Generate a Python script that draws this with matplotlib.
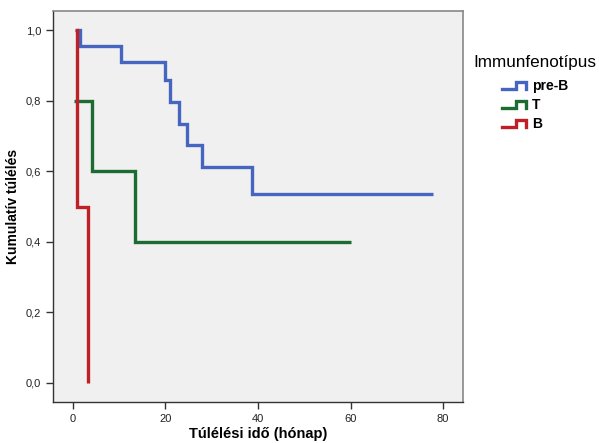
import matplotlib
matplotlib.use("Agg")
import matplotlib.pyplot as plt
from matplotlib.lines import Line2D
from matplotlib.legend_handler import HandlerBase
from matplotlib.ticker import FuncFormatter

plt.rcParams['font.family'] = ['Liberation Sans', 'DejaVu Sans']

# Kaplan-Meier step data (time in months, cumulative survival)
preB_time = [0.9, 1.5, 10.3, 19.9, 21.0, 22.9, 24.6, 28.0, 38.8, 77.8]
preB_surv = [1.0, 0.955, 0.909, 0.859, 0.797, 0.735, 0.673, 0.612, 0.535, 0.535]

T_time = [0.3, 4.1, 13.4, 60.0]
T_surv = [0.8, 0.6, 0.4, 0.4]

B_time = [0.4, 0.9, 3.2, 3.2]
B_surv = [1.0, 0.5, 0.0, 0.0]

groups = ["pre-B", "T", "B"]
colors = ["#4565C0", "#1C6B33", "#BE2026"]

x_ticks = [0, 20, 40, 60, 80]
y_ticks = [0.0, 0.2, 0.4, 0.6, 0.8, 1.0]

fig = plt.figure(figsize=(5.99, 4.43), dpi=100)
ax = fig.add_axes([53/599, 1 - 402/443, (463-53)/599, (402-11)/443])
ax.set_facecolor("#F0F0F0")

lw = 2.4
series = [(preB_time, preB_surv), (T_time, T_surv), (B_time, B_surv)]
order = [1, 0, 2]
for i in order:
    t, s = series[i]
    ax.step(t, s, where="post", color=colors[i], lw=lw, solid_joinstyle="miter",
            solid_capstyle="butt")

ax.set_xlim(-4.3, 84.3)
ax.set_ylim(-0.054, 1.054)
ax.set_xticks(x_ticks)
ax.set_yticks(y_ticks)
ax.yaxis.set_major_formatter(FuncFormatter(lambda v, p: f"{v:.1f}".replace(".", ",")))
ax.tick_params(axis="both", labelsize=8, length=5, width=1, color="#333333", labelcolor="#222222")

for side in ["left", "bottom"]:
    ax.spines[side].set_color("#333333")
    ax.spines[side].set_linewidth(1)
for side in ["top", "right"]:
    ax.spines[side].set_color("#888888")
    ax.spines[side].set_linewidth(1.2)

ax.set_xlabel("Túlélési idő (hónap)", fontsize=10.5, fontweight="bold", labelpad=2)
ax.set_ylabel("Kumulatív túlélés", fontsize=10, fontweight="bold", labelpad=4)


class StepHandler(HandlerBase):
    def create_artists(self, legend, orig_handle, xdescent, ydescent, width, height, fontsize, trans):
        x0 = -xdescent
        y0 = -ydescent
        xs = [x0, x0 + width * 0.5, x0 + width * 0.5, x0 + width * 0.88, x0 + width * 0.88]
        ys = [y0 + height * 0.1, y0 + height * 0.1, y0 + height * 0.9, y0 + height * 0.9, y0 + height * 0.1]
        ln = Line2D(xs, ys, color=orig_handle.get_color(), lw=2.4, solid_joinstyle="miter",
                    transform=trans)
        return [ln]


handles = [Line2D([], [], color=c) for c in colors]
leg = fig.legend(handles, groups, title="Immunfenotípus", loc="upper left",
                 bbox_to_anchor=(461/599, 1 - 42/443), frameon=False,
                 handler_map={Line2D: StepHandler()}, handlelength=2.0, handleheight=0.6,
                 handletextpad=0.15, labelspacing=0.36, prop={"size": 10, "weight": "bold"})
leg.get_title().set_fontsize(12.3)
leg.get_title().set_fontweight("medium")
leg._legend_box.sep = 7

fig.savefig("out.png", dpi=100)
